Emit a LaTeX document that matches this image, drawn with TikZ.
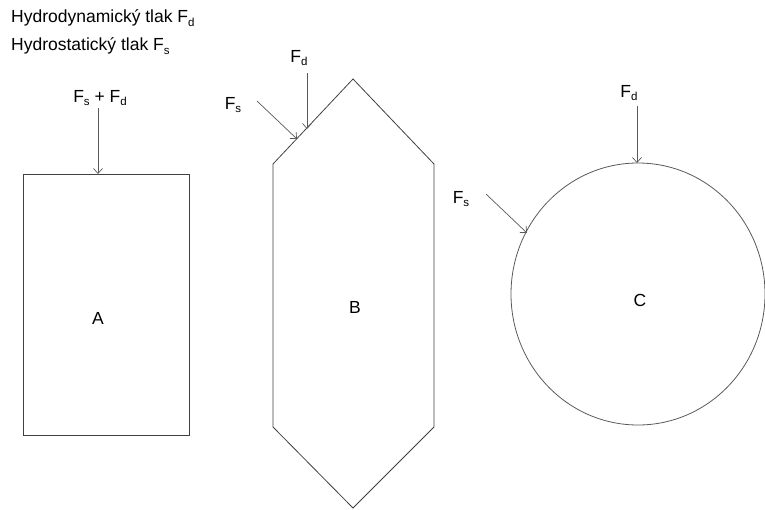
\documentclass[tikz,border=0pt]{standalone}
\usepackage{fontspec}
\setmainfont{Liberation Sans}
\usetikzlibrary{arrows.meta}
\newcommand{\sbs}[1]{\raisebox{-0.4ex}{\fontsize{11.5}{12}\selectfont #1}}
\begin{document}
\begin{tikzpicture}[x=1pt,y=-1pt,
  lbl/.style={font=\fontsize{17.5}{20}\selectfont, inner sep=0pt},
  shapeline/.style={draw=black!75, line width=0.8pt},
  force/.style={draw=black!65, line width=0.7pt, -{Straight Barb[length=5pt,width=9pt]}}]
\useasboundingbox (0,0) rectangle (765,509);
% legend
\node[lbl, anchor=west] (legd) at (11,18) {Hydrodynamický tlak F\sbs{d}};
\node[lbl, anchor=west] (legs) at (11,46) {Hydrostatický tlak F\sbs{s}};
% A
\draw[shapeline] (23,174) rectangle (189,435);
\node[lbl] (A) at (98,318) {A};
\coordinate (Atip) at (98,174);
\node[lbl] (Afsfd) at (100,98) {F\sbs{s} + F\sbs{d}};
\draw[force] (98,108) -- (Atip);
% B
\draw[shapeline] (273,164) -- (353,79) -- (434,164) -- (434,427) -- (353,508) -- (273,427) -- cycle;
\node[lbl] (B) at (355,307) {B};
\coordinate (Bfd) at (307,129);
\coordinate (Bfs) at (297,139);
\node[lbl] (Bfdl) at (299,58) {F\sbs{d}};
\node[lbl] (Bfsl) at (233,105) {F\sbs{s}};
\draw[force] (307,73) -- (Bfd);
\draw[force] (257,101) -- (Bfs);
% C
\draw[shapeline, draw=black!65] (638,294) ellipse [x radius=127, y radius=131];
\node[lbl] (C) at (640,300) {C};
\coordinate (Cfd) at (637,163);
\coordinate (Cfs) at (527,233);
\node[lbl] (Cfdl) at (629,93) {F\sbs{d}};
\node[lbl] (Cfsl) at (461,199) {F\sbs{s}};
\draw[force] (637,106) -- (Cfd);
\draw[force] (486,194) -- (Cfs);
\end{tikzpicture}
\end{document}
